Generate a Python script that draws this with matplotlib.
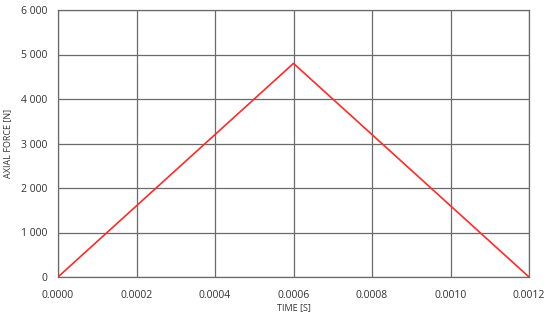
import matplotlib
matplotlib.use("Agg")
import matplotlib.pyplot as plt
from matplotlib.ticker import FuncFormatter

time_s = [0.0, 0.0006, 0.0012]
force_n = [0, 4800, 0]
x_ticks = [0.0, 0.0002, 0.0004, 0.0006, 0.0008, 0.0010, 0.0012]
y_ticks = [0, 1000, 2000, 3000, 4000, 5000, 6000]

plt.rcParams['font.family'] = ['Open Sans', 'DejaVu Sans']

fig = plt.figure(figsize=(5.5, 3.18), dpi=100)
ax = fig.add_axes([58/550, 1-277/318, (529-58)/550, (277-10)/318])
ax.plot(time_s, force_n, color='#ff2a2a', lw=1.2, zorder=3)
ax.set_xlim(0, 0.0012)
ax.set_ylim(0, 6000)
ax.set_xticks(x_ticks)
ax.set_yticks(y_ticks)
ax.xaxis.set_major_formatter(FuncFormatter(lambda v, p: f"{v:.4f}"))
ax.yaxis.set_major_formatter(FuncFormatter(lambda v, p: f"{int(round(v)):,}".replace(",", " ")))
ax.grid(True, color='#6a6a6a', lw=0.9)
for s in ax.spines.values():
    s.set_color('#6a6a6a')
    s.set_linewidth(0.9)
ax.tick_params(length=0, labelsize=7.5, colors='#333333')
ax.tick_params(axis='x', pad=9)
ax.tick_params(axis='y', pad=8)
ax.set_xlabel('TIME [S]', fontsize=6.5, color='#333333', labelpad=2)
ax.set_ylabel('AXIAL FORCE [N]', fontsize=6.5, color='#333333', labelpad=6)
fig.savefig('out.png', dpi=100)
